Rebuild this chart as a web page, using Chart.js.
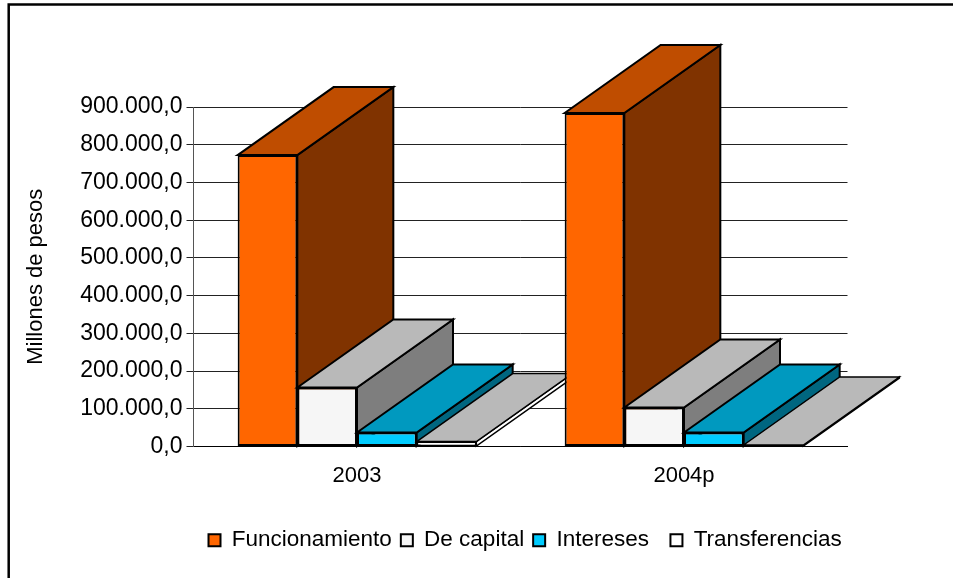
<!DOCTYPE html>
<html>
<head>
<meta charset="utf-8">
<style>
  html, body { margin: 0; padding: 0; background: #fff; overflow: hidden; }
  canvas { display: block; }
</style>
<script src="https://cdn.jsdelivr.net/npm/chart.js@4"></script>
</head>
<body>
<canvas id="chart" width="953" height="578"></canvas>
<script>
const categories = ['2003', '2004p'];
const funcionamiento = [772500, 884000];
const deCapital = [156500, 103500];
const intereses = [37000, 37000];
const transferencias = [13000, 4000];

const FONT = 'Liberation Sans';
// colores de cara frontal, superior y lateral
const faces = {
  Funcionamiento: { front: '#FF6600', top: '#BF4D00', side: '#803300' },
  'De capital': { front: '#F6F6F6', top: '#B9B9B9', side: '#7E7E7E' },
  Intereses: { front: '#00CCFF', top: '#0099BF', side: '#006680' },
  Transferencias: { front: '#FFFFFF', top: '#B9B9B9', side: '#FFFFFF' }
};
const DEPTH_X = 96;
const DEPTH_Y = -68;

function fmt(v) {
  return v.toLocaleString('es-ES', { minimumFractionDigits: 1, maximumFractionDigits: 1, useGrouping: 'always' });
}

function poly(ctx, pts, fill) {
  ctx.beginPath();
  pts.forEach((p, i) => i ? ctx.lineTo(p[0], p[1]) : ctx.moveTo(p[0], p[1]));
  ctx.closePath();
  ctx.fillStyle = fill;
  ctx.fill();
  ctx.stroke();
}

const bars3d = {
  id: 'bars3d',
  // las barras se pintan por categoria, de izquierda a derecha, para que se tapen bien
  beforeDatasetsDraw(chart) {
    const { ctx } = chart;
    ctx.save();
    ctx.strokeStyle = '#000';
    ctx.lineJoin = 'miter';
    categories.forEach((c, i) => {
      chart.data.datasets.forEach((ds, d) => {
        const bar = chart.getDatasetMeta(d).data[i];
        const f = faces[ds.label];
        const l = bar.x - bar.width / 2;
        const r = bar.x + bar.width / 2;
        const t = bar.y;
        const b = bar.base;
        ctx.lineWidth = ds.borderWidth;
        poly(ctx, [[r, t], [r + DEPTH_X, t + DEPTH_Y], [r + DEPTH_X, b + DEPTH_Y], [r, b]], f.side);
        poly(ctx, [[l, t], [l + DEPTH_X, t + DEPTH_Y], [r + DEPTH_X, t + DEPTH_Y], [r, t]], f.top);
        bar.draw(ctx);
      });
    });
    ctx.restore();
    return false;
  }
};

const frame = {
  id: 'frame',
  beforeDraw(chart) {
    const { ctx, width, height } = chart;
    ctx.save();
    ctx.strokeStyle = '#000';
    ctx.lineWidth = 2.5;
    ctx.beginPath();
    ctx.moveTo(8.7, height);
    ctx.lineTo(8.7, 4.5);
    ctx.lineTo(width, 4.5);
    ctx.stroke();
    ctx.restore();
  }
};

const legendPos = {
  id: 'legendPos',
  afterLayout(chart) {
    chart.legend.left = 199.5;
    chart.legend.right = chart.width;
    chart.legend.top = 520;
  }
};

function makeSet(label, data, borderWidth) {
  return {
    label,
    data,
    backgroundColor: faces[label].front,
    borderColor: '#000',
    borderWidth,
    borderSkipped: false,
    categoryPercentage: 0.73,
    barPercentage: 1
  };
}

new Chart(document.getElementById('chart'), {
  type: 'bar',
  data: {
    labels: categories,
    datasets: [
      makeSet('Funcionamiento', funcionamiento, 2),
      makeSet('De capital', deCapital, 2),
      makeSet('Intereses', intereses, 2),
      makeSet('Transferencias', transferencias, 1.5)
    ]
  },
  plugins: [frame, bars3d, legendPos],
  options: {
    responsive: false,
    animation: false,
    devicePixelRatio: 1,
    layout: { padding: { left: 0, top: 107, right: 105.5, bottom: 0 } },
    scales: {
      x: {
        afterFit(s) { s.height = 90; },
        grid: { display: false },
        border: { color: '#000', width: 1 },
        ticks: { color: '#000', font: { family: FONT, size: 22 }, padding: 8, maxRotation: 0 }
      },
      y: {
        min: 0,
        max: 900000,
        afterFit(s) { s.width = 193.5; },
        grid: { color: '#222', lineWidth: 1, tickLength: 7, drawTicks: true },
        border: { color: '#555', width: 1 },
        ticks: {
          stepSize: 100000,
          color: '#000',
          padding: 4,
          font: { family: FONT, size: 23 },
          callback: v => fmt(v)
        },
        title: {
          display: true,
          text: 'Millones de pesos',
          color: '#000',
          font: { family: FONT, size: 22 },
          padding: { top: 23, bottom: 0 }
        }
      }
    },
    plugins: {
      tooltip: { enabled: false },
      legend: {
        position: 'bottom',
        align: 'start',
        labels: {
          boxWidth: 12,
          boxHeight: 12,
          padding: 9,
          color: '#000',
          font: { family: FONT, size: 22.5 },
          generateLabels(chart) {
            return chart.data.datasets.map((ds, i) => ({
              // el hueco tras "Intereses" es mas ancho en el original
              text: ds.label === 'Intereses' ? ds.label + '  ' : ds.label,
              fillStyle: ds.backgroundColor,
              strokeStyle: '#000',
              lineWidth: 2,
              datasetIndex: i
            }));
          }
        }
      }
    }
  }
});
</script>
</body>
</html>
